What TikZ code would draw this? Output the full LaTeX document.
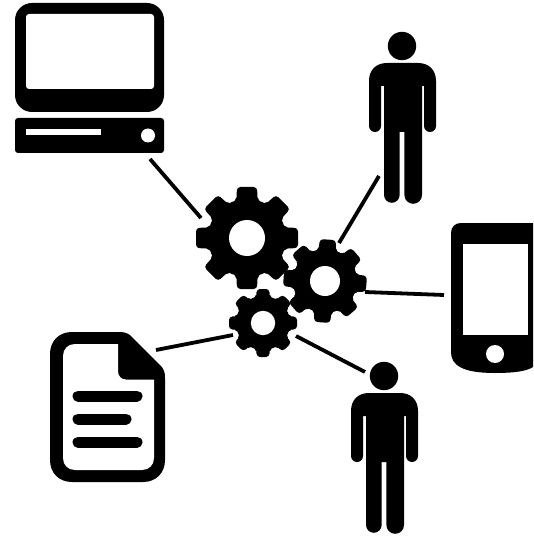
\documentclass[tikz,border=0pt]{standalone}
\tikzset{
  icon/.style={fill=black,draw=none},
  hole/.style={fill=white,draw=none},
  link/.style={draw=black,line width=3.8pt},
  bar/.style={draw=black,line width=11pt,line cap=round}
}
% #1 centre x, #2 centre y, #3 rotation, #4 body radius, #5 outer radius, #6 tooth half width, #7 hole radius
\newcommand{\gearicon}[7]{%
  \begin{scope}[shift={(#1,#2)},rotate=#3]
    \fill[icon] (0,0) circle (#4);
    \foreach \a in {0,45,...,315}{
      \fill[icon,rotate=\a,rounded corners=3.4pt]
        (-#6-0.9,#4-6) -- (-#6,#5) -- (#6,#5) -- (#6+0.9,#4-6) -- cycle;
      \fill[icon,rotate=\a] (-#6-4.6,#4-6) -- (-#6-0.9,#4+1) -- (#6+0.9,#4+1) -- (#6+4.6,#4-6) -- cycle;
    }
    \fill[hole] (0,0) circle (#7);
  \end{scope}}
% #1 dx, #2 dy from the lower figure
\newcommand{\personicon}[2]{%
  \begin{scope}[shift={(#1,#2)}]
    \fill[icon] (384,376) circle (14.2);
    \fill[icon] (351,456) -- (351,411) .. controls (351,400) and (358,393) .. (369,393)
      -- (400,393) .. controls (411,393) and (418,400) .. (418,411)
      -- (418,456) arc[start angle=0,end angle=180,radius=6] -- (406,416) -- (404,416)
      -- (404,525) arc[start angle=0,end angle=180,radius=8.8] -- (386.4,462) -- (381.6,462)
      -- (381.6,525) arc[start angle=0,end angle=180,radius=7.8] -- (366,525) -- (366,416) -- (363,416)
      -- (363,456) arc[start angle=0,end angle=180,radius=6] -- cycle;
  \end{scope}}
\begin{document}
\begin{tikzpicture}[x=1pt,y=-1pt]
\useasboundingbox[fill=white] (0,0) rectangle (533,537);
% computer
\fill[icon,rounded corners=17pt] (15,3) rectangle (164,112);
\fill[hole,rounded corners=3pt] (26,14) rectangle (154,89);
\fill[icon,rounded corners=3pt] (15,118) rectangle (164,153);
\fill[hole] (26,129.5) rectangle (101,135.5);
\fill[hole] (148,135.5) circle (7);
% gears
\gearicon{247}{238}{0}{39}{51}{10}{18}
\gearicon{325}{281}{-4}{32}{41.5}{8}{15}
\gearicon{263}{323}{0}{27}{34}{6.3}{12.2}
% document
\fill[icon] (72,332) -- (120,332) .. controls (126,332) and (129,334) .. (132,337)
  -- (160,365) .. controls (164,369) and (165,372) .. (165,378)
  -- (165,460) .. controls (165,473) and (156,482) .. (143,482)
  -- (72,482) .. controls (59,482) and (50,473) .. (50,460)
  -- (50,354) .. controls (50,341) and (59,332) .. (72,332) -- cycle;
\fill[hole] (75,344) -- (118,344) -- (118,371) .. controls (118,376) and (121,379.5) .. (126,379.5)
  -- (154,379.5) -- (154,458) .. controls (154,465) and (149,470) .. (142,470)
  -- (75,470) .. controls (68,470) and (63,465) .. (63,458)
  -- (63,356) .. controls (63,349) and (68,344) .. (75,344) -- cycle;
\draw[bar] (78,396) -- (137,396);
\draw[bar] (78,419) -- (126,419);
\draw[bar] (78,442) -- (137,442);
% phone
\fill[icon] (533,223) -- (461,223) .. controls (455,223) and (451,227) .. (451,233)
  -- (451,352) .. controls (451,365) and (462,373) .. (495,373) .. controls (515,373) and (527,371) .. (533,367) -- cycle;
\fill[hole] (463,244) rectangle (527.5,335);
\fill[hole] (495,354) circle (9);
% persons
\personicon{18}{-330}
\personicon{0}{0}
% connectors
\coordinate (compA) at (150,159);
\coordinate (gearA) at (201,218);
\coordinate (persA) at (379,176);
\coordinate (gearB) at (339,243);
\coordinate (gearC) at (365,292);
\coordinate (phone) at (444,295);
\coordinate (docu) at (156,350);
\coordinate (gearD) at (233,335);
\coordinate (gearE) at (296,336);
\coordinate (persB) at (365,372);
\draw[link] (compA) -- (gearA);
\draw[link] (persA) -- (gearB);
\draw[link] (gearC) -- (phone);
\draw[link] (docu) -- (gearD);
\draw[link] (gearE) -- (persB);
\end{tikzpicture}
\end{document}
